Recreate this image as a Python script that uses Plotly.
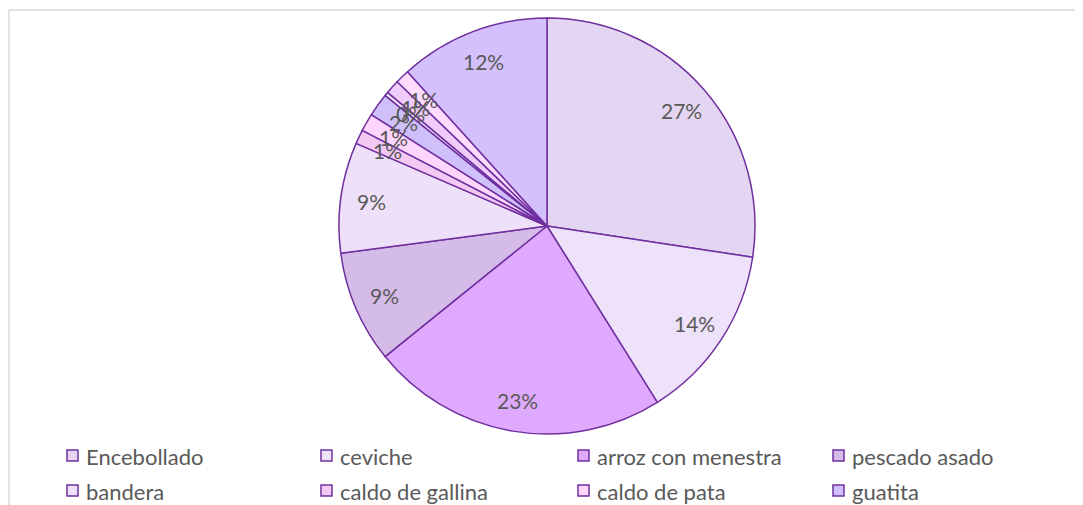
import math
import plotly.graph_objects as go

# ---- data ----
labels = ["Encebollado", "ceviche", "arroz con menestra", "pescado asado",
          "bandera", "caldo de gallina", "caldo de pata", "guatita",
          "seco de pollo", "corviche", "bolón", "otros"]
values = [27.4, 13.7, 23.1, 8.7, 8.6, 1.1, 1.4, 1.8, 0.3, 1.1, 1.1, 11.7]
colors = ["#E4D6F2", "#EEE1FA", "#DFAAFD", "#D5BBE8", "#EEE0F9", "#F3C8F3",
          "#FDD5FD", "#CFC0FC", "#F4EAFB", "#EFCCF9", "#FFDCFE", "#D3C0FC"]

W, H = 1083, 505
OFF = 8  # page body margin
CX, CY, R = 547, 226, 208
LINE = "#7030A0"
TXT = "#595959"
FONT = "Lato"


def px(x, y):
    return (x - OFF) / W, 1 - (y - OFF) / H


dx0, dy0 = px(CX - R, CY + R)
dx1, dy1 = px(CX + R, CY - R)
fig = go.Figure(go.Pie(
    labels=labels, values=values, sort=False, direction="clockwise",
    rotation=0, textinfo="none", hoverinfo="label+percent",
    marker=dict(colors=colors, line=dict(color=LINE, width=1.5)),
    domain=dict(x=[dx0, dx1], y=[dy0, dy1]),
    showlegend=False,
))

annotations = []
shapes = []
total = sum(values)
cum = 0.0
for v in values:
    mid = (cum + v / 2) / total * 2 * math.pi
    cum += v
    rr = R * 0.85
    x = CX + rr * math.sin(mid)
    y = CY - rr * math.cos(mid)
    ax, ay = px(x, y)
    annotations.append(dict(
        x=ax, y=ay, xref="paper", yref="paper", showarrow=False,
        text=f"{int(v / total * 100 + 0.5)}%",
        font=dict(family=FONT, size=21, color=TXT),
        xanchor="center", yanchor="middle"))

# legend (4 columns, third row falls outside the picture as in reference)
col_x = [67, 321, 578, 833]
row_y = [456, 491, 526]
for i, (lab, col) in enumerate(zip(labels, colors)):
    cx = col_x[i % 4]
    cy = row_y[i // 4]
    x0, y0 = px(cx, cy - 6)
    x1, y1 = px(cx + 11, cy + 5)
    shapes.append(dict(type="rect", xref="paper", yref="paper",
                       x0=x0, x1=x1, y0=y1, y1=y0,
                       fillcolor=col, line=dict(color=LINE, width=1.5)))
    tx, ty = px(cx + 17, cy)
    annotations.append(dict(
        x=tx, y=ty, xref="paper", yref="paper", showarrow=False,
        text=lab, font=dict(family=FONT, size=22, color=TXT),
        xanchor="left", yanchor="middle"))

# chart frame (partial, light gray)
fx, fy = px(9, 10)
fr, _ = px(W + 20, 10)
_, fb = px(9, H + 20)
shapes.append(dict(type="line", xref="paper", yref="paper",
                   x0=fx, x1=fr, y0=fy, y1=fy,
                   line=dict(color="#D9D9D9", width=1.5)))
shapes.append(dict(type="line", xref="paper", yref="paper",
                   x0=fx, x1=fx, y0=fy, y1=fb,
                   line=dict(color="#D9D9D9", width=1.5)))

# cut-off glyph at the very top
gx, gy = px(241, -5)
annotations.append(dict(
    x=gx, y=gy, xref="paper", yref="paper", showarrow=False,
    text="<i>y</i>", font=dict(family="DejaVu Serif", size=18, color="#000000"),
    xanchor="center", yanchor="middle"))

fig.update_layout(
    width=W, height=H, margin=dict(l=0, r=0, t=0, b=0),
    paper_bgcolor="white", plot_bgcolor="white",
    annotations=annotations, shapes=shapes, showlegend=False,
)

fig.write_html("out.html")
